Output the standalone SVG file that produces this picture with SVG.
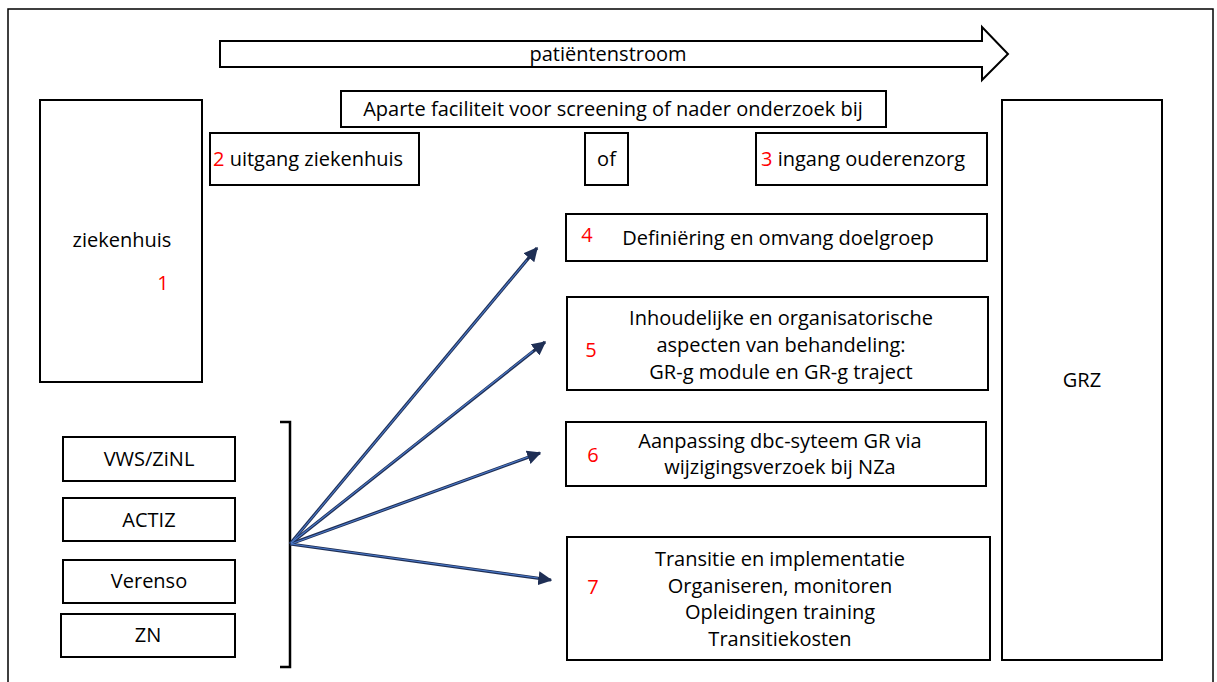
<svg xmlns="http://www.w3.org/2000/svg" width="1217" height="682" viewBox="0 0 1217 682">
<style>
.b{fill:#fff;stroke:#000;stroke-width:2}
.t{font-family:"Open Sans","Liberation Sans",Arial,sans-serif;font-size:20px;fill:#000;text-anchor:middle}
.r{fill:#ff0000}
.c{stroke:#1F2F55;stroke-width:3.2;fill:none}
.ci{stroke:#4A78C8;stroke-width:1.1;fill:none}
</style>
<defs>
<marker id="ah" viewBox="0 0 10 10" refX="9" refY="5" markerWidth="4.4" markerHeight="4.4" orient="auto" markerUnits="strokeWidth">
<path d="M0,0 L10,5 L0,10 z" fill="#1F2F55"/>
</marker>
</defs>
<rect x="0" y="0" width="1217" height="682" fill="#fff"/>
<rect x="8" y="9" width="1205" height="690" fill="none" stroke="#000" stroke-width="1.5"/>

<g id="flow">
<path class="b" d="M220,41 L982,41 L982,27 L1008,54 L982,80 L982,67 L220,67 Z" stroke-width="1.5"/>
<text class="t" x="608" y="61">patiëntenstroom</text>
</g>

<g id="aparte">
<rect class="b" x="341" y="91" width="545" height="36"/>
<text class="t" x="613" y="116">Aparte faciliteit voor screening of nader onderzoek bij</text>
</g>

<g id="uitgang">
<rect class="b" x="210" y="133" width="209" height="52"/>
<text class="t" x="213" y="166" style="text-anchor:start"><tspan class="r">2</tspan> uitgang ziekenhuis</text>
</g>

<g id="of">
<rect class="b" x="585" y="133" width="43" height="52"/>
<text class="t" x="606.5" y="166">of</text>
</g>

<g id="ingang">
<rect class="b" x="756" y="133" width="231" height="52"/>
<text class="t" x="761" y="166" style="text-anchor:start"><tspan class="r">3</tspan> ingang ouderenzorg</text>
</g>

<g id="ziekenhuis">
<rect class="b" x="40" y="100" width="162" height="282"/>
<text class="t" x="122" y="247">ziekenhuis</text>
<text class="t r" x="163" y="290">1</text>
</g>

<g id="grz">
<rect class="b" x="1002" y="100" width="160" height="560"/>
<text class="t" x="1082" y="387">GRZ</text>
</g>

<g id="n4">
<rect class="b" x="566" y="214" width="421" height="47"/>
<text class="t r" x="587" y="242">4</text>
<text class="t" x="778" y="245">Definiëring en omvang doelgroep</text>
</g>

<g id="n5">
<rect class="b" x="567" y="297" width="421" height="93"/>
<text class="t r" x="591" y="357">5</text>
<text class="t" x="781" y="325">Inhoudelijke en organisatorische</text>
<text class="t" x="781" y="352">aspecten van behandeling:</text>
<text class="t" x="781" y="379">GR-g module en GR-g traject</text>
</g>

<g id="n6">
<rect class="b" x="566" y="422" width="420" height="64"/>
<text class="t r" x="593" y="462">6</text>
<text class="t" x="780" y="448">Aanpassing dbc-syteem GR via</text>
<text class="t" x="780" y="474">wijzigingsverzoek bij NZa</text>
</g>

<g id="n7">
<rect class="b" x="567" y="537" width="423" height="123"/>
<text class="t r" x="593" y="594">7</text>
<text class="t" x="780" y="566">Transitie en implementatie</text>
<text class="t" x="780" y="593">Organiseren, monitoren</text>
<text class="t" x="780" y="619">Opleidingen training</text>
<text class="t" x="780" y="646">Transitiekosten</text>
</g>

<g id="vws">
<rect class="b" x="63" y="437" width="172" height="44"/>
<text class="t" x="149" y="466">VWS/ZiNL</text>
</g>
<g id="actiz">
<rect class="b" x="63" y="498" width="172" height="43"/>
<text class="t" x="149" y="527">ACTIZ</text>
</g>
<g id="verenso">
<rect class="b" x="63" y="560" width="172" height="43"/>
<text class="t" x="149" y="588">Verenso</text>
</g>
<g id="zn">
<rect class="b" x="61" y="614" width="174" height="43"/>
<text class="t" x="148" y="642">ZN</text>
</g>

<g id="bracket">
<path d="M280,422 L290,422 L290,667 L280,667" fill="none" stroke="#000" stroke-width="2.5"/>
</g>

<g id="connectors">
<line class="c" x1="290" y1="544" x2="537" y2="248" marker-end="url(#ah)"/>
<line class="c" x1="290" y1="544" x2="545" y2="342" marker-end="url(#ah)"/>
<line class="c" x1="290" y1="544" x2="540" y2="453" marker-end="url(#ah)"/>
<line class="c" x1="290" y1="544" x2="551" y2="580" marker-end="url(#ah)"/>
<line class="ci" x1="291" y1="543" x2="527" y2="260"/>
<line class="ci" x1="291" y1="543" x2="533" y2="351"/>
<line class="ci" x1="291" y1="544" x2="528" y2="457"/>
<line class="ci" x1="291" y1="544" x2="538" y2="578"/>
</g>
</svg>
